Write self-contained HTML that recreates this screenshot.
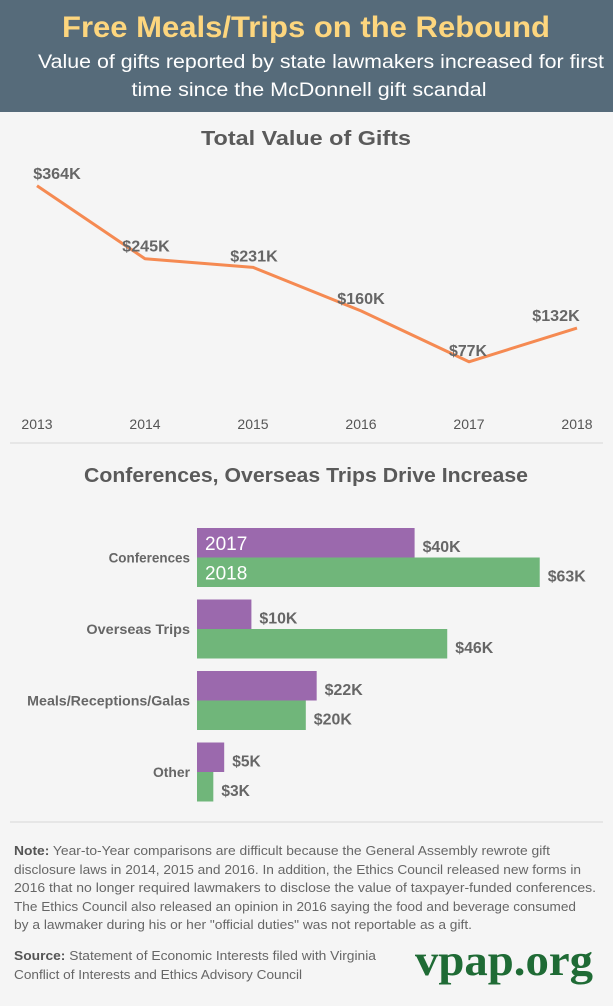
<!DOCTYPE html>
<html><head><meta charset="utf-8"><style>
html,body{margin:0;padding:0;background:#f5f5f5;}
svg{display:block;font-family:"Liberation Sans",sans-serif;}
</style></head><body>
<svg id="chart" width="613" height="1006" viewBox="0 0 613 1006" xmlns="http://www.w3.org/2000/svg">
<rect x="0" y="0" width="613" height="1006" fill="#f5f5f5"/>
<rect x="0" y="0" width="613" height="112" fill="#566b7a"/>
<text x="306" y="37" text-anchor="middle" font-size="30" font-weight="bold" fill="#fdd67e" textLength="488" lengthAdjust="spacingAndGlyphs">Free Meals/Trips on the Rebound</text>
<text x="321" y="68" text-anchor="middle" font-size="19" fill="#ffffff" textLength="566" lengthAdjust="spacingAndGlyphs">Value of gifts reported by state lawmakers increased for first</text>
<text x="309" y="96" text-anchor="middle" font-size="19" fill="#ffffff" textLength="355" lengthAdjust="spacingAndGlyphs">time since the McDonnell gift scandal</text>
<text x="306" y="145" text-anchor="middle" font-size="20" font-weight="bold" fill="#5a5a5a" textLength="210" lengthAdjust="spacingAndGlyphs">Total Value of Gifts</text>
<g id="line"></g>
<line x1="10" y1="443" x2="603" y2="443" stroke="#d8d8d8"/>
<text x="306" y="482" text-anchor="middle" font-size="20" font-weight="bold" fill="#5a5a5a" textLength="444" lengthAdjust="spacingAndGlyphs">Conferences, Overseas Trips Drive Increase</text>
<g id="bars"></g>
<line x1="10" y1="822" x2="603" y2="822" stroke="#d8d8d8"/>
<g font-size="13" fill="#666">
<text x="14" y="855" textLength="536" lengthAdjust="spacingAndGlyphs"><tspan font-weight="bold" fill="#555">Note:</tspan> Year-to-Year comparisons are difficult because the General Assembly rewrote gift</text>
<text x="14" y="874" textLength="567" lengthAdjust="spacingAndGlyphs">disclosure laws in 2014, 2015 and 2016. In addition, the Ethics Council released new forms in</text>
<text x="14" y="892" textLength="582" lengthAdjust="spacingAndGlyphs">2016 that no longer required lawmakers to disclose the value of taxpayer-funded conferences.</text>
<text x="14" y="911" textLength="562" lengthAdjust="spacingAndGlyphs">The Ethics Council also released an opinion in 2016 saying the food and beverage consumed</text>
<text x="14" y="929" textLength="458" lengthAdjust="spacingAndGlyphs">by a lawmaker during his or her "official duties" was not reportable as a gift.</text>
</g>
<g font-size="13" fill="#666">
<text x="14" y="960" textLength="362" lengthAdjust="spacingAndGlyphs"><tspan font-weight="bold" fill="#555">Source:</tspan> Statement of Economic Interests filed with Virginia</text>
<text x="14" y="979" textLength="288" lengthAdjust="spacingAndGlyphs">Conflict of Interests and Ethics Advisory Council</text>
</g>
<text x="593" y="975" text-anchor="end" font-family="Liberation Serif,serif" font-size="44" font-weight="bold" fill="#1f6b35" textLength="178" lengthAdjust="spacingAndGlyphs">vpap.org</text>
</svg>
<script>
const years = ["2013","2014","2015","2016","2017","2018"];
const totals = [364,245,231,160,77,132];
const totalLabels = ["$364K","$245K","$231K","$160K","$77K","$132K"];
const categories = ["Conferences","Overseas Trips","Meals/Receptions/Galas","Other"];
const values2017 = [40,10,22,5];
const values2018 = [63,46,20,3];
const seriesNames = ["2017","2018"];

const NS="http://www.w3.org/2000/svg";
function mk(tag,attrs,parent,txt){const e=document.createElementNS(NS,tag);for(const k in attrs)e.setAttribute(k,attrs[k]);if(txt!==undefined)e.textContent=txt;parent.appendChild(e);return e;}
const xL=i=>37+i*108;
const yL=v=>409-v*0.6133;
const lg=document.getElementById('line');
const pts=totals.map((v,i)=>xL(i)+","+yL(v)).join(" ");
const pl=mk('polyline',{points:pts,fill:"none",stroke:"#f58a52","stroke-width":3,"stroke-linejoin":"round"},lg);


const lblOff=[[20,-7],[1,-7],[1,-6],[0,-7],[-1,-6],[-21,-7]];
totals.forEach((v,i)=>{
  const t=mk('text',{x:xL(i)+lblOff[i][0],y:yL(v)+lblOff[i][1],"text-anchor":"middle","font-size":16,"font-weight":"bold",fill:"#666",textLength:totalLabels[i].length*9.5,lengthAdjust:"spacingAndGlyphs"},lg,totalLabels[i]);
  
  
  const y=mk('text',{x:xL(i),y:429,"text-anchor":"middle","font-size":14,fill:"#555"},lg,years[i]);
  
  
});
const bg=document.getElementById('bars');
const x0=197,kx=5.44,bh=29.5;
const gy=i=>528+i*71.5;
categories.forEach((c,i)=>{
  const top=gy(i);
  const ct=mk('text',{x:190,y:top+bh+5,"text-anchor":"end","font-size":14,"font-weight":"bold",fill:"#666",textLength:c.length*7.4,lengthAdjust:"spacingAndGlyphs"},bg,c);
  
  
  [[values2017,"#9b69ad"],[values2018,"#70b67a"]].forEach(([arr,col],s)=>{
    const y=top+s*bh;const w=arr[i]*kx;
    const r=mk('rect',{x:x0,y:y,width:w,height:bh,fill:col},bg);
    
    
    const lbl="$"+arr[i]+"K";
    const vl=mk('text',{x:x0+w+8,y:y+bh/2+9,"font-size":16,"font-weight":"bold",fill:"#666",textLength:lbl.length*9.5,lengthAdjust:"spacingAndGlyphs"},bg,lbl);
    
    
    if(i===0){
      const sl=mk('text',{x:x0+8,y:y+bh/2+7,"font-size":19,fill:"#fff"},bg,seriesNames[s]);
      
      
    }
  });
});
</script>
</body></html>
